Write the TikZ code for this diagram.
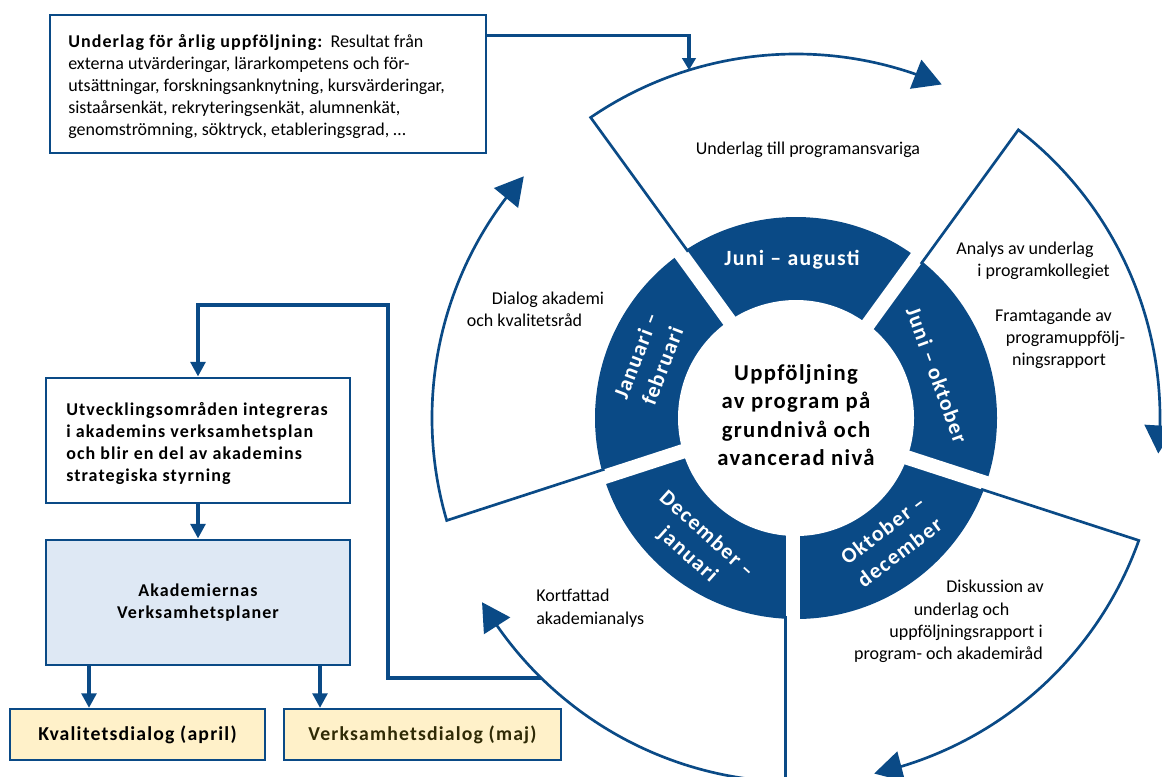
\documentclass[tikz,border=0pt]{standalone}
\usepackage{fontspec}
\setmainfont{Carlito}
\newfontfamily\lsfont{Carlito}[LetterSpace=6]
\usetikzlibrary{arrows.meta,bending}
\definecolor{uniblue}{HTML}{0A4A86}
\definecolor{boxblue}{HTML}{DEE8F4}
\definecolor{cream}{HTML}{FFF1C9}
\definecolor{olive}{HTML}{2F2A05}
\tikzset{
  sector/.style={draw=uniblue, line width=2pt, line join=miter, -{Triangle[length=21pt,width=23pt]}},
  conn/.style={draw=uniblue, line width=3pt, line join=miter, -{Triangle[length=11pt,width=11pt]}},
  smallconn/.style={draw=uniblue, line width=2.5pt, line join=miter, -{Triangle[length=9pt,width=10pt]}},
  bigbox/.style={draw=uniblue, line width=2.2pt, inner sep=0pt},
  smallbox/.style={draw=uniblue, line width=1.6pt, fill=cream, inner sep=0pt, minimum height=38.25pt},
  lbl/.style={font=\fontsize{13.5pt}{16.5pt}\selectfont, inner sep=0pt},
  boldtxt/.style={font=\lsfont\bfseries\fontsize{13.5pt}{16.5pt}\selectfont, inner sep=0pt},
  ringlbl/.style={text=white, font=\lsfont\bfseries\fontsize{16.3pt}{21pt}\selectfont, align=center, inner sep=0pt},
  centertxt/.style={font=\lsfont\bfseries\fontsize{17pt}{21.4pt}\selectfont, align=center, inner sep=0pt},
  dialogtxt/.style={font=\lsfont\bfseries\fontsize{14.8pt}{18pt}\selectfont}
}
\begin{document}
\begin{tikzpicture}[x=0.75pt,y=0.75pt]
\useasboundingbox (0,0) rectangle (1162,-776);
\clip (0,0) rectangle (1162,-776);
\coordinate (C) at (796,-418);

% ring
\fill[uniblue] (C) circle[radius=201];
\fill[white] (C) circle[radius=118];
\foreach \t in {54,126,198,270,342}
  \fill[white, shift={(C)}, rotate=\t] (100,-10.5) rectangle (215,4);

% outer sectors with arrows
\foreach \t in {54,126,198,270,342}
  \draw[sector, shift={(C)}, rotate=\t] (198,-10.5) -- (363.85,-10.5) arc[start angle=-1.65, end angle=-59.6, radius=364];

% centre text
\node[centertxt] (title) at (796,-415) {Uppföljning\\av program på\\grundnivå och\\avancerad nivå};

% ring labels
\node[ringlbl] (ja) at (792,-260) {Juni – augusti};
\node[ringlbl, rotate=-70] (jo) at (937,-375) {Juni – oktober};
\node[ringlbl, rotate=37] (od) at (891,-541) {Oktober –\\december};
\node[ringlbl, rotate=-42] (dj) at (697,-545) {December –\\januari};
\node[ringlbl, rotate=69] (jf) at (649,-361) {Januari –\\februari};

% sector texts
\node[lbl, anchor=base] (s1) at (808,-154) {Underlag till programansvariga};
\node[lbl, anchor=base] (s2a) at (1025,-254) {Analys av underlag};
\node[lbl, anchor=base] (s2b) at (1043.5,-276) {i programkollegiet};
\node[lbl, anchor=base] (s2c) at (1053.5,-321) {Framtagande av};
\node[lbl, anchor=base] (s2d) at (1065.5,-343) {programuppfölj-};
\node[lbl, anchor=base] (s2e) at (1059,-365) {ningsrapport};
\node[lbl, anchor=base east] (s3a) at (1044,-592) {Diskussion av};
\node[lbl, anchor=base] (s3b) at (961.5,-615) {underlag och};
\node[lbl, anchor=base east] (s3c) at (1043,-637) {uppföljningsrapport i};
\node[lbl, anchor=base east] (s3d) at (1043,-659) {program- och akademiråd};
\node[lbl, anchor=base west] (s4a) at (536,-601) {Kortfattad};
\node[lbl, anchor=base west] (s4b) at (536,-624) {akademianalys};
\node[lbl, anchor=base] (s5a) at (548,-304) {Dialog akademi};
\node[lbl, anchor=base] (s5b) at (524.5,-326) {och kvalitetsråd};

% top-left box
\node[bigbox, fill=white, minimum width=327pt, minimum height=103.5pt] (topbox) at (268,-84) {};
\node[lbl, anchor=west, align=left] (toptext) at (68,-86.5) {{\lsfont\bfseries Underlag för årlig uppföljning:}\ \ Resultat från\\externa utvärderingar, lärarkompetens och för-\\utsättningar, forskningsanknytning, kursvärderingar,\\sistaårsenkät, rekryteringsenkät, alumnenkät,\\genomströmning, söktryck, etableringsgrad, \ldots};

% left boxes
\node[bigbox, fill=white, minimum width=228pt, minimum height=93.75pt] (utv) at (198,-440.5) {};
\node[boldtxt, anchor=west, align=left] (utvtext) at (66,-443) {Utvecklingsområden integreras\\i akademins verksamhetsplan\\och blir en del av akademins\\strategiska styrning};
\node[bigbox, fill=boxblue, minimum width=228pt, minimum height=93.75pt, boldtxt, align=center, inner sep=0pt] (akad) at (198,-602.5) {Akademiernas\\Verksamhetsplaner};
\node[smallbox, dialogtxt, minimum width=191.25pt] (kval) at (137.5,-734.5) {Kvalitetsdialog (april)};
\node[smallbox, dialogtxt, text=olive, minimum width=207.75pt] (verk) at (422.5,-734.5) {Verksamhetsdialog (maj)};

% connectors
\path (C) ++(107.1:364) coordinate (topin);
\path (C) ++(225.6:364) coordinate (junc);
\coordinate (ka) at (89,-700);
\coordinate (va) at (320,-700);
\draw[smallconn] (topbox.north east) ++(0,-22) -| (topin);
\draw[conn] (junc) -| (388,-305) -| (utv.north);
\draw[conn] (utv.south) -- (akad.north);
\draw[conn] (akad.south -| ka) -- (kval.north -| ka);
\draw[conn] (akad.south -| va) -- (verk.north -| va);
\end{tikzpicture}
\end{document}
